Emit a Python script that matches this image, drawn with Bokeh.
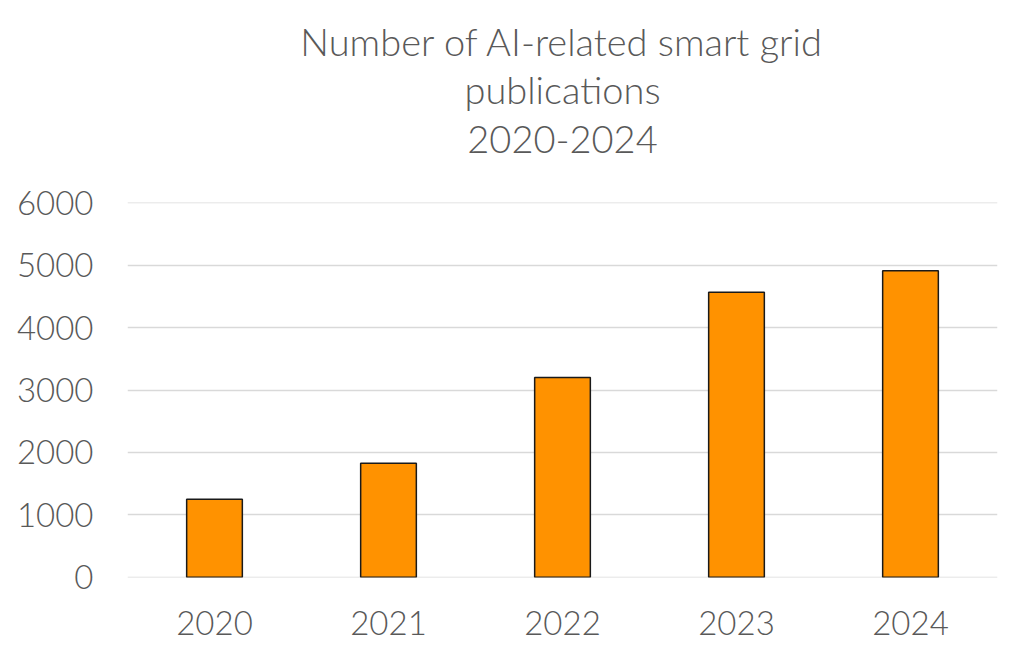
from bokeh.plotting import figure
from bokeh.models import Title, Range1d, FixedTicker
from bokeh.embed import file_html
from bokeh.resources import INLINE

years = ["2020", "2021", "2022", "2023", "2024"]
counts = [1250, 1825, 3200, 4565, 4910]
y_ticks = [0, 1000, 2000, 3000, 4000, 5000, 6000]
title_lines = ["Number of AI-related smart grid", "publications", "2020-2024"]

FONT = "Lato Light"
GREY = "#595959"

p = figure(x_range=years, y_range=Range1d(-3, 6003),
           width=1008, height=647, output_backend="svg", toolbar_location=None,
           frame_width=870, frame_height=375,
           min_border_left=127, min_border_right=11, min_border_bottom=70, min_border_top=202)

p.vbar(x=years, top=counts, width=0.32, fill_color="#ff9200",
       line_color="#1a1a1a", line_width=1.5)

# spacer between plot frame and title block
p.add_layout(Title(text=" ", text_font_size="2px", standoff=34), "above")

standoffs = [24, 0, 0]
for t, s in zip(reversed(title_lines), standoffs):
    p.add_layout(Title(text=t, align="center", text_font=FONT, text_font_size="38px",
                       text_font_style="normal", text_color=GREY,
                       standoff=s, offset=0), "above")
p.title.visible = False

p.yaxis.ticker = FixedTicker(ticks=y_ticks)
for ax in (p.xaxis, p.yaxis):
    ax.axis_line_color = None
    ax.major_tick_line_color = None
    ax.minor_tick_line_color = None
    ax.major_label_text_font = FONT
    ax.major_label_text_font_size = "33px"
    ax.major_label_text_color = GREY
p.yaxis.major_label_standoff = 28
p.xaxis.major_label_standoff = 27

p.xgrid.grid_line_color = None
p.ygrid.grid_line_color = "#d9d9d9"
p.ygrid.grid_line_width = 1.5
p.outline_line_color = None
p.x_range.range_padding = 0.0

open("out.html", "w").write(file_html(p, INLINE))
